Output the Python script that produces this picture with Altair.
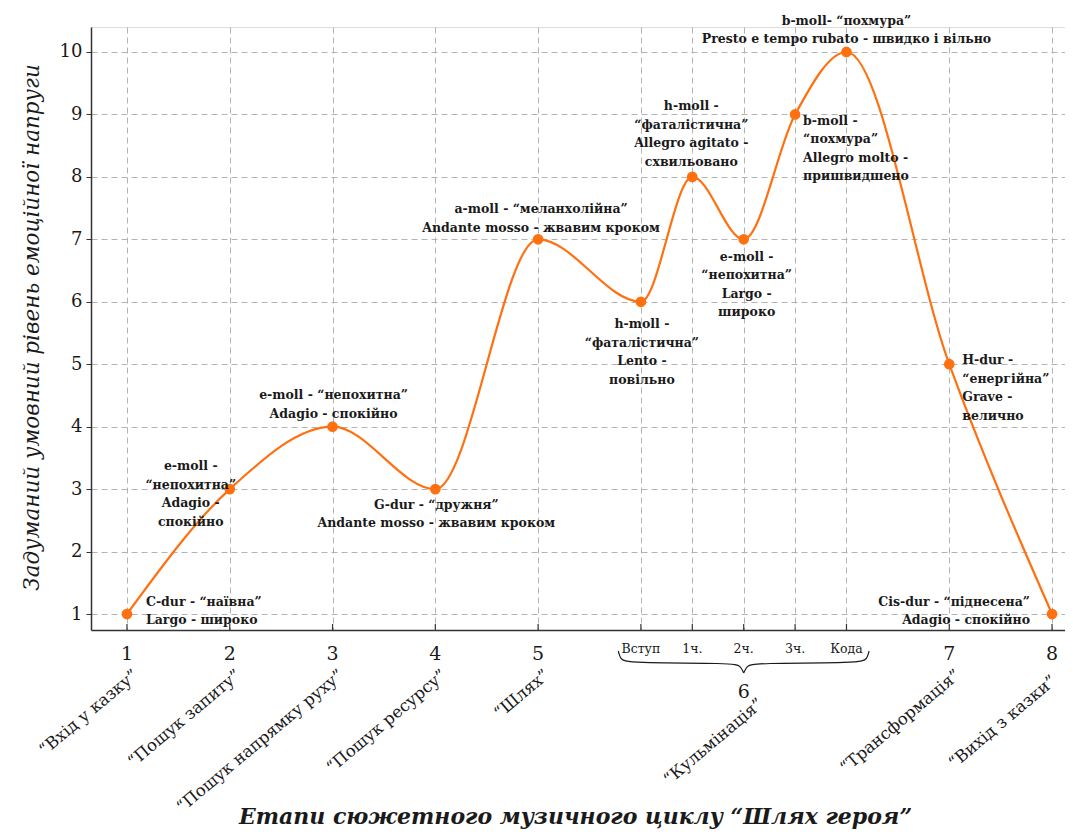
import altair as alt
import pandas as pd

# ---- data ----
stage_x = [1, 2, 3, 4, 5, 6, 6.5, 7, 7.5, 8, 9, 10]
tension = [1, 3, 4, 3, 7, 6, 8, 7, 9, 10, 5, 1]
notes = [
    ["C-dur - “наївна”", "Largo - широко"],
    ["e-moll -", "“непохитна”", "Adagio -", "спокійно"],
    ["e-moll - “непохитна”", "Adagio - спокійно"],
    ["G-dur - “дружня”", "Andante mosso - жвавим кроком"],
    ["a-moll - “меланхолійна”", "Andante mosso - жвавим кроком"],
    ["h-moll -", "“фаталістична”", "Lento -", "повільно"],
    ["h-moll -", "“фаталістична”", "Allegro agitato -", "схвильовано"],
    ["e-moll -", "“непохитна”", "Largo -", "широко"],
    ["b-moll -", "“похмура”", "Allegro molto -", "пришвидшено"],
    ["b-moll- “похмура”", "Presto e tempo rubato - швидко і вільно"],
    ["H-dur -", "“енергійна”", "Grave -", "велично"],
    ["Cis-dur - “піднесена”", "Adagio - спокійно"],
]
stage_num_x = [1, 2, 3, 4, 5, 7, 9, 10]
stage_num = ["1", "2", "3", "4", "5", "6", "7", "8"]
stage_names = ["“Вхід у казку”", "“Пошук запиту”", "“Пошук напрямку руху”",
               "“Пошук ресурсу”", "“Шлях”", "“Кульмінація”",
               "“Трансформація”", "“Вихід з казки”"]
sub_x = [6, 6.5, 7, 7.5, 8]
sub_labels = ["Вступ", "1ч.", "2ч.", "3ч.", "Кода"]

# ---- styles (label offsets in px, block centre relative to the point) ----
note_dx = [19, -39, 1, 1, 3, 1, -1, 3, 8, 0, 13, -22]
note_dy = [-3, 5, -22, 25, -21, 50, -43, 45, 34, -22, 24, -3]
note_align = ["left", "center", "center", "center", "center", "center",
              "center", "center", "left", "center", "left", "right"]
LH = 18.5
num_py = [24, 24, 24, 24, 24, 62, 24, 24]
name_py = [40, 40, 40, 40, 40, 76, 40, 40]
name_dx = [5, 5, 5, 5, 5, 16, 5, -4]

ORANGE = "#ff7010"
INK = "#1a1a1a"
SERIF = "DejaVu Serif"

W, H = 974, 603
XDOM = [0.65, 10.126]
YDOM = [0.744, 10.40]

df = pd.DataFrame({"x": stage_x, "y": tension, "note": notes, "i": range(len(stage_x))})
xs = alt.Scale(domain=XDOM, nice=False, zero=False)
ys = alt.Scale(domain=YDOM, nice=False, zero=False)

base = alt.Chart(df)

grid = base.mark_point(opacity=0).encode(
    x=alt.X("x:Q", scale=xs, axis=alt.Axis(
        values=stage_x, labels=False, ticks=False, grid=True,
        gridDash=[6, 4], gridColor="#b3b3b3", gridWidth=1,
        domainColor="#333333", domainWidth=1.5,
        title="Етапи сюжетного музичного циклу “Шлях героя”",
        titleFont=SERIF, titleFontSize=22, titleFontStyle="italic",
        titleFontWeight="bold", titleColor=INK, titleX=W / 2 - 3,
        titleY=193, titleBaseline="alphabetic", titleAlign="center")),
    y=alt.Y("y:Q", scale=ys, axis=alt.Axis(
        values=list(range(1, 11)), format="d", grid=True, gridDash=[6, 4],
        gridColor="#b3b3b3", gridWidth=1, domainColor="#333333",
        domainWidth=1.5, tickColor="#333333", tickSize=5,
        labelFont=SERIF, labelFontSize=18, labelColor=INK, labelPadding=4,
        title="Задуманий умовний рівень емоційної напруги",
        titleFont=SERIF, titleFontSize=21.5, titleFontStyle="italic",
        titleFontWeight="normal", titleColor=INK, titleAngle=-90,
        titleX=-59, titleY=300, titleAlign="center", titleBaseline="middle")),
)

xticks = base.mark_rule(color="#333333", strokeWidth=1.2).encode(
    x=alt.X("x:Q", scale=xs), y=alt.value(H - 6), y2=alt.value(H))

line = base.mark_line(interpolate="monotone", color=ORANGE, strokeWidth=2.2).encode(
    x=alt.X("x:Q", scale=xs), y=alt.Y("y:Q", scale=ys))

dots = base.mark_circle(size=115, color=ORANGE, opacity=1).encode(
    x=alt.X("x:Q", scale=xs), y=alt.Y("y:Q", scale=ys))

note_layers = []
for k in range(len(stage_x)):
    first_dy = note_dy[k] - (len(notes[k]) - 1) * LH / 2
    note_layers.append(
        base.transform_filter(alt.datum.i == k).mark_text(
            font=SERIF, fontSize=12.5, fontWeight="bold", color=INK,
            align=note_align[k], baseline="middle", dx=note_dx[k], dy=first_dy,
            lineHeight=LH,
        ).encode(x=alt.X("x:Q", scale=xs), y=alt.Y("y:Q", scale=ys), text="note"))

num_df = pd.DataFrame({"x": stage_num_x, "num": stage_num, "name": stage_names,
                       "j": range(len(stage_num))})
stage_layers = []
for j in range(len(stage_num)):
    sel = alt.Chart(num_df).transform_filter(alt.datum.j == j)
    stage_layers.append(sel.mark_text(
        font=SERIF, fontSize=19, color=INK, baseline="middle").encode(
        x=alt.X("x:Q", scale=xs), y=alt.value(H + num_py[j]), text="num"))
    stage_layers.append(sel.mark_text(
        font=SERIF, fontSize=16.5, color=INK, align="right", baseline="top",
        angle=320, dx=name_dx[j]).encode(
        x=alt.X("x:Q", scale=xs), y=alt.value(H + name_py[j]), text="name"))

sub_df = pd.DataFrame({"x": sub_x, "lab": sub_labels})
subs = alt.Chart(sub_df).mark_text(
    font=SERIF, fontSize=12.5, color=INK, baseline="middle").encode(
    x=alt.X("x:Q", scale=xs), y=alt.value(H + 19), text="lab")

# curly brace under the sub-movement labels (x in data units, y in px)
brace_x = [5.78, 5.80, 5.86, 6.90, 6.97, 7.0, 7.0, 7.03, 7.10, 8.14, 8.20, 8.22]
brace_y = [H + 21, H + 29, H + 33, H + 33, H + 36, H + 43, H + 43, H + 36, H + 33, H + 33, H + 29, H + 21]
brace_side = ["l"] * 6 + ["r"] * 6
brace_df = pd.DataFrame({"x": brace_x, "py": brace_y, "s": brace_side, "o": range(12)})
brace = alt.Chart(brace_df).mark_line(color=INK, strokeWidth=1.2, interpolate="basis").encode(
    x=alt.X("x:Q", scale=xs), y=alt.Y("py:Q", scale=None), detail="s:N", order="o:Q")

chart = alt.layer(grid, xticks, line, dots, *note_layers, *stage_layers,
                  subs, brace).properties(
    width=W, height=H,
    autosize=alt.AutoSizeParams(type="none"),
    padding={"left": 83, "top": 19, "right": 0, "bottom": 200},
).configure_view(stroke=None).configure(background="white")

chart.save("out.html", embed_options={"renderer": "svg", "actions": False})
